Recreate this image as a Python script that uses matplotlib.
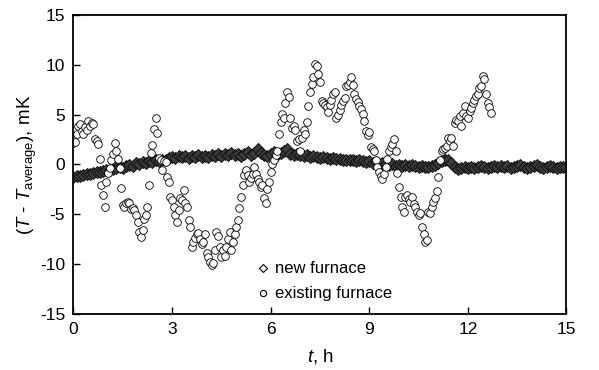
import matplotlib
matplotlib.use("Agg")
import matplotlib.pyplot as plt
from matplotlib.lines import Line2D
import numpy as np

plt.rcParams['font.family'] = ['Liberation Sans', 'DejaVu Sans']
plt.rcParams['mathtext.fontset'] = 'custom'
plt.rcParams['mathtext.rm'] = 'Liberation Sans'
plt.rcParams['mathtext.it'] = 'Liberation Sans:italic'
plt.rcParams['axes.unicode_minus'] = False

# new furnace, one reading every 0.1 h from 0 to 15 h
new_step = 0.1
new_furnace = [
    -1.3, -1.2, -1.2, -1.1, -1.0, -1.0, -0.9, -0.8, -0.8, -0.7, -0.6,
    -0.6, -0.5, -0.4, -0.3, -0.4, -0.2, -0.1, -0.2, 0.1, 0.0,
    0.2, 0.1, 0.3, 0.2, 0.4, 0.3, 0.5, 0.4, 0.7, 0.8,
    0.7, 0.9, 0.8, 0.9, 0.7, 0.9, 0.8, 1.0, 0.8, 0.9,
    0.8, 1.0, 0.9, 1.1, 0.9, 1.1, 1.0, 1.2, 1.0, 1.1,
    0.9, 1.1, 1.3, 1.0, 1.2, 1.6, 1.2, 1.0, 0.9, 1.1,
    1.3, 1.0, 1.2, 1.4, 1.6, 1.1, 1.0, 1.1, 1.0, 0.9,
    1.0, 0.8, 0.9, 0.8, 0.7, 0.8, 0.7, 0.6, 0.7, 0.6,
    0.6, 0.5, 0.4, 0.5, 0.4, 0.3, 0.4, 0.3, 0.2, 0.3,
    0.1, 0.2, 0.0, 0.1, 0.0, -0.1, 0.0, -0.2, -0.1, -0.2,
    -0.1, -0.2, -0.1, -0.2, -0.3, -0.2, -0.3, -0.3, -0.2, -0.1,
    0.1, 0.3, 0.5, 0.4, 0.1, -0.3, -0.5, -0.4, -0.3, -0.4,
    -0.3, -0.4, -0.3, -0.2, -0.3, -0.4, -0.3, -0.2, -0.3, -0.2,
    -0.3, -0.2, -0.4, -0.3, -0.2, -0.1, -0.3, -0.4, -0.3, -0.2,
    -0.1, -0.3, -0.4, -0.3, -0.2, -0.3, -0.4, -0.3, -0.3, -0.3,
]

# existing furnace, one reading every 0.05 h from 0 to 12.7 h
old_step = 0.05
existing_furnace = [
    2.2, 2.3, 3.1, 3.9, 4.1, 3.4, 3.1, 3.8, 3.5, 4.4,
    3.9, 4.2, 4.1, 2.6, 2.4, 2.1, 0.6, -2.1, -3.1, -4.3,
    -1.8, -0.9, -0.4, 0.5, 1.1, 2.2, 1.4, 0.6, -0.4, -2.4,
    -4.1, -4.3, -3.9, -3.8, -3.9, -4.5, -4.4, -4.6, -5.1, -5.8,
    -6.8, -7.3, -6.6, -5.5, -5.1, -4.3, -2.1, 1.2, 2.0, 3.6,
    4.7, 3.2, 0.7, 0.5, -0.6, 0.3, 0.2, -1.3, -1.8, -3.3,
    -3.6, -4.3, -5.1, -5.8, -4.6, -3.4, -3.6, -2.6, -3.9, -4.3,
    -5.6, -6.3, -8.3, -7.8, -7.4, -7.0, -6.9, -7.5, -8.0, -7.8,
    -7.0, -8.9, -9.3, -9.8, -10.1, -9.9, -8.6, -6.8, -7.2, -8.3,
    -9.3, -8.6, -9.2, -8.3, -7.5, -6.8, -8.6, -7.8, -7.0, -6.3,
    -5.6, -4.4, -3.3, -2.1, -1.1, -0.6, -1.1, -1.8, -1.4, -1.0,
    -0.3, -1.0, -1.5, -1.8, -2.3, -2.1, -3.4, -3.9, -2.5, -1.8,
    -0.8, 0.0, 0.5, 1.0, 1.4, 3.1, 4.3, 5.1, 4.7, 6.2,
    7.3, 6.8, 4.7, 3.7, 3.9, 3.5, 2.4, 2.6, 1.4, 2.7,
    3.5, 3.1, 4.3, 5.9, 7.3, 8.1, 8.8, 10.1, 9.9, 9.1,
    8.3, 6.4, 6.2, 6.0, 5.8, 5.3, 6.0, 6.5, 7.1, 7.3,
    4.7, 5.0, 5.5, 6.0, 6.4, 6.7, 7.9, 8.0, 8.3, 8.8,
    8.0, 7.1, 6.6, 6.3, 5.9, 5.6, 5.1, 4.4, 3.4, 3.0,
    3.3, 1.8, 1.6, 1.4, 0.4, -0.3, -0.8, -1.2, -1.5, -1.0,
    -0.3, 0.6, 1.4, 1.8, 2.1, 2.6, 1.4, -0.9, -2.3, -3.3,
    -4.3, -4.8, -3.3, -3.1, -3.5, -3.8, -3.3, -4.0, -4.3, -4.8,
    -5.1, -4.9, -6.3, -7.0, -7.8, -7.6, -4.8, -4.9, -4.3, -3.8,
    -3.4, -2.7, -1.3, 0.4, 1.4, 1.6, 1.7, 1.9, 2.7, 2.4,
    2.7, 1.9, 4.2, 4.5, 4.4, 4.9, 3.9, 5.2, 5.9, 4.9,
    4.7, 5.4, 5.7, 6.2, 6.5, 6.9, 7.1, 7.7, 7.9, 8.9,
    8.6, 7.1, 6.2, 5.8, 5.2,
]

x_ticks = [0, 3, 6, 9, 12, 15]
y_ticks = [-15, -10, -5, 0, 5, 10, 15]

t_new = np.arange(len(new_furnace)) * new_step
t_old = np.arange(len(existing_furnace)) * old_step

fig = plt.figure(figsize=(5.99, 3.70), dpi=100)
ax = fig.add_axes([0.1227, 0.1514, 0.8230, 0.8081])

# dense overlapping diamonds make a dark band
ax.plot(t_new, new_furnace, linestyle='none', marker='D', markersize=6.3,
        markerfacecolor='#3c3c3c', markeredgecolor='#111111', markeredgewidth=0.7)
ax.plot(t_old, existing_furnace, linestyle='none', marker='o', markersize=5.5,
        markerfacecolor='white', markeredgecolor='black', markeredgewidth=0.6)

ax.set_xlim(0, 15)
ax.set_ylim(-15, 15)
ax.set_xticks(x_ticks)
ax.set_yticks(y_ticks)
ax.tick_params(direction='in', length=5, width=1, labelsize=12.5, pad=6)
for s in ax.spines.values():
    s.set_linewidth(1.3)

ax.set_xlabel(r'$\mathit{t}$, h', fontsize=13.5, labelpad=7)
ax.set_ylabel(r'($\mathit{T}$ - $\mathit{T}_{\mathrm{average}}$), mK', fontsize=13.5, labelpad=1)

handles = [
    Line2D([], [], linestyle='none', marker='D', markersize=4.2,
           markerfacecolor='white', markeredgecolor='black', markeredgewidth=0.8),
    Line2D([], [], linestyle='none', marker='o', markersize=4.5,
           markerfacecolor='white', markeredgecolor='black', markeredgewidth=0.8),
]
ax.legend(handles, ['new furnace', 'existing furnace'], loc='lower left',
          bbox_to_anchor=(0.343, -0.008), frameon=False, fontsize=12,
          handlelength=0.7, handletextpad=0.35, labelspacing=0.6)

fig.savefig('out.png', dpi=100)
